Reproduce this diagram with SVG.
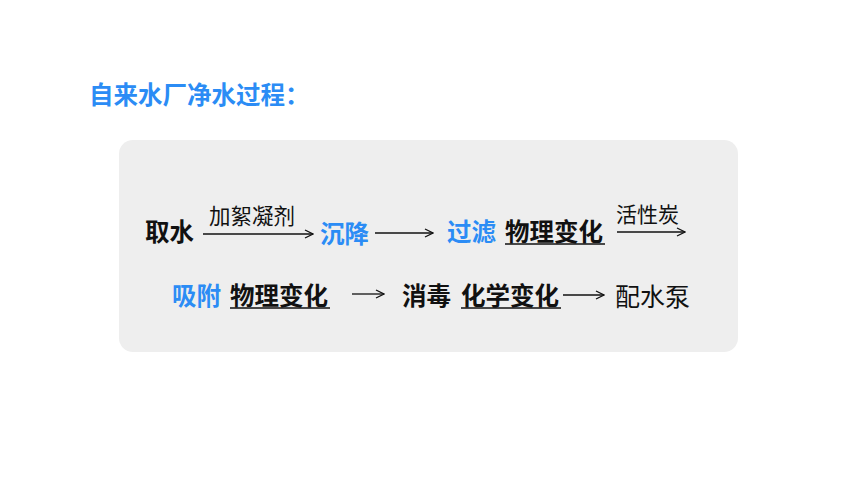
<svg xmlns="http://www.w3.org/2000/svg" width="860" height="484" viewBox="0 0 860 484">
<defs>
<marker id="ah" viewBox="0 0 10 10" refX="9" refY="5" markerWidth="10" markerHeight="10" markerUnits="userSpaceOnUse" orient="auto">
<path d="M1,1 L9,5 L1,9" fill="none" stroke="#111" stroke-width="1.3"/>
</marker>
<style>
text{font-family:"Noto Sans CJK SC","Noto Sans",sans-serif;}
.t{font-size:24.5px;font-weight:bold;fill:#2b8cf5;}
.b{font-size:24.5px;font-weight:bold;fill:#111;}
.bl{font-size:24.5px;font-weight:bold;fill:#2b8cf5;}
.n{font-size:21.5px;fill:#111;}
.n3{font-size:21px;fill:#111;}
.n2{font-size:25px;fill:#111;}
.u{stroke:#111;stroke-width:1.6;}
.c{stroke:#111;stroke-width:1.3;fill:none;marker-end:url(#ah);}
</style>
</defs>
<rect width="860" height="484" fill="#ffffff"/>
<text class="t" x="89" y="104">自来水厂净水过程：</text>
<rect x="119" y="140" width="619" height="212" rx="14" fill="#eeeeee"/>
<g id="n-qushui"><text class="b" x="145" y="241">取水</text></g>
<g id="n-chenjiang"><text class="bl" x="320" y="243">沉降</text></g>
<g id="n-guolv"><text class="bl" x="447" y="241">过滤</text></g>
<g id="n-wuli1"><text class="b" x="505" y="241">物理变化</text><line class="u" x1="505" y1="244" x2="605" y2="244"/></g>
<g id="n-xifu"><text class="bl" x="172" y="305">吸附</text></g>
<g id="n-wuli2"><text class="b" x="230" y="305">物理变化</text><line class="u" x1="230" y1="308" x2="330" y2="308"/></g>
<g id="n-xiaodu"><text class="b" x="402" y="305">消毒</text></g>
<g id="n-huaxue"><text class="b" x="461" y="305">化学变化</text><line class="u" x1="461" y1="308" x2="561" y2="308"/></g>
<g id="n-peishuibeng"><text class="n2" x="615" y="306">配水泵</text></g>
<g id="connectors">
<line class="c" x1="203" y1="234" x2="313" y2="234"/>
<text class="n" x="209" y="224">加絮凝剂</text>
<line class="c" x1="375" y1="233" x2="433" y2="233"/>
<line class="c" x1="617" y1="232" x2="685" y2="232"/>
<text class="n3" x="616" y="222">活性炭</text>
<line class="c" x1="352" y1="294" x2="384" y2="294"/>
<line class="c" x1="563" y1="295" x2="604" y2="295"/>
</g>
</svg>
